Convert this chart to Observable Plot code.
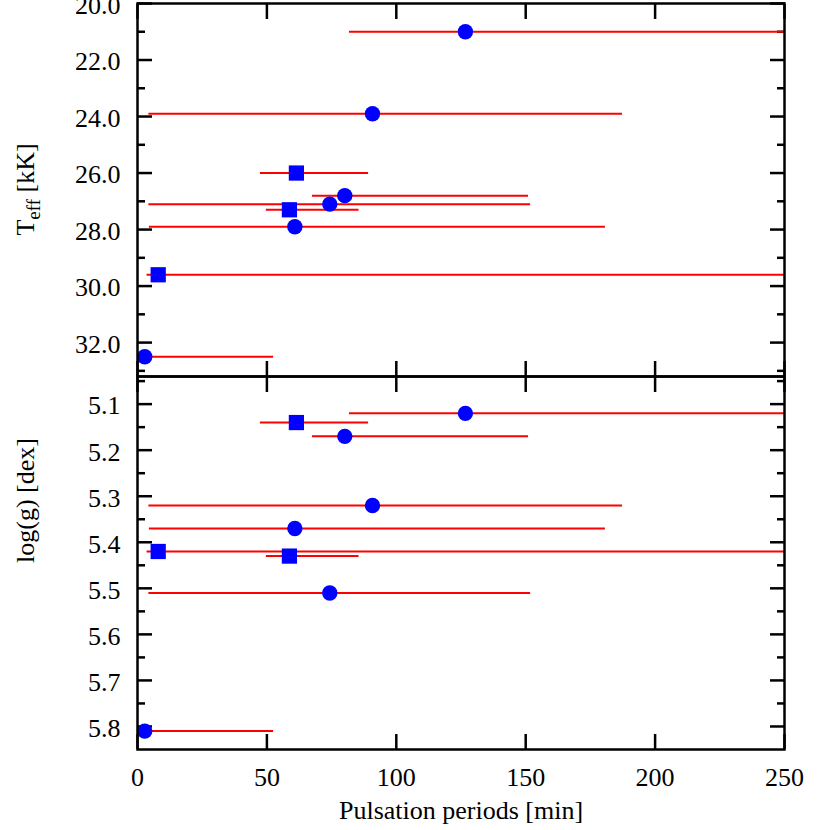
<!DOCTYPE html>
<html>
<head>
<meta charset="utf-8">
<script src="https://cdn.jsdelivr.net/npm/d3@7"></script>
<script src="https://cdn.jsdelivr.net/npm/@observablehq/plot@0.6"></script>
<style>
  body { margin: 0; background: #fff; }
  #wrap { position: relative; width: 830px; height: 830px; }
  #wrap svg { position: absolute; left: 0; top: 0; }
</style>
</head>
<body>
<div id="wrap"></div>
<script>
// Data
const period   = [126.7, 90.8, 61.4, 80.1, 74.3, 58.7, 60.8, 8.0, 2.8];
const periodLo = [81.9, 4.4, 47.5, 67.6, 4.4, 49.8, 4.6, 3.7, 0];
const periodHi = [260, 187.4, 89.3, 151.1, 151.9, 85.6, 180.8, 260, 52.6];
const teff     = [21.0, 23.9, 26.0, 26.8, 27.1, 27.3, 27.9, 29.6, 32.5];
const logg     = [5.12, 5.32, 5.14, 5.17, 5.51, 5.43, 5.37, 5.42, 5.81];
const symbol   = ["circle", "circle", "square", "circle", "circle", "square", "circle", "square", "circle"];

const xTicks    = [0, 50, 100, 150, 200, 250];
const teffMajor = [20, 22, 24, 26, 28, 30, 32];
const teffMinor = [21, 23, 25, 27, 29, 31, 33];
const loggMajor = [5.1, 5.2, 5.3, 5.4, 5.5, 5.6, 5.7, 5.8];
const loggMinor = [5.05, 5.15, 5.25, 5.35, 5.45, 5.55, 5.65, 5.75];

const xLabel = "Pulsation periods [min]";
const loggLabel = "log(g) [dex]";

const rows = period.map((p, i) => ({p, lo: periodLo[i], hi: periodHi[i], teff: teff[i], logg: logg[i], sym: symbol[i]}));

const FONT = "'Liberation Serif', 'Times New Roman', serif";
const blank = () => "";

function panel({yKey, domain, major, minor, fmt, marginTop, marginBottom, extra}) {
  return Plot.plot({
    width: 830, height: 830,
    marginLeft: 137, marginRight: 46, marginTop, marginBottom,
    style: {background: "transparent", fontFamily: FONT, fontSize: "26px", color: "black"},
    x: {domain: [0, 250]},
    y: {domain, reverse: true},
    marks: [
      Plot.axisY(major, {anchor: "left", tickSize: 15, dx: 15, strokeWidth: 2.5, tickFormat: blank, label: null}),
      Plot.axisY(minor, {anchor: "left", tickSize: 8, dx: 8, strokeWidth: 2.5, tickFormat: blank, label: null}),
      Plot.axisY(major, {anchor: "right", tickSize: 15, dx: -15, strokeWidth: 2.5, tickFormat: blank, label: null}),
      Plot.axisY(minor, {anchor: "right", tickSize: 8, dx: -8, strokeWidth: 2.5, tickFormat: blank, label: null}),
      Plot.axisY(major, {anchor: "left", tickSize: 0, tickPadding: 17, dy: 2, tickFormat: fmt, label: null}),
      Plot.axisX(xTicks, {anchor: "top", tickSize: 15, dy: 15, strokeWidth: 2.5, tickFormat: blank, label: null}),
      Plot.axisX(xTicks, {anchor: "bottom", tickSize: 15, dy: -15, strokeWidth: 2.5, tickFormat: blank, label: null}),
      Plot.ruleY(rows, {y: yKey, x1: "lo", x2: "hi", stroke: "red", strokeWidth: 2, clip: true}),
      Plot.dot(rows.filter(d => d.sym === "circle"), {x: "p", y: yKey, r: 7.7, fill: "blue", symbol: "circle"}),
      Plot.dot(rows.filter(d => d.sym === "square"), {x: "p", y: yKey, r: 8.6, fill: "blue", symbol: "square"}),
      Plot.frame({strokeWidth: 2.5}),
      ...extra
    ]
  });
}

const topPlot = panel({
  yKey: "teff", domain: [20, 33.2], major: teffMajor, minor: teffMinor,
  fmt: d3.format(".1f"), marginTop: 3, marginBottom: 454, extra: []
});

const bottomPlot = panel({
  yKey: "logg", domain: [5.04, 5.85], major: loggMajor, minor: loggMinor,
  fmt: d3.format(".1f"), marginTop: 376, marginBottom: 81,
  extra: [
    Plot.axisX(xTicks, {anchor: "bottom", tickSize: 0, tickPadding: 18, tickFormat: d => String(d), label: null}),
    Plot.text([xLabel], {text: d => d, frameAnchor: "bottom", dy: 69, lineAnchor: "bottom"}),
    Plot.text([loggLabel], {text: d => d, frameAnchor: "left", dx: -103.5, rotate: -90, lineAnchor: "bottom"})
  ]
});

const wrap = document.getElementById("wrap");
wrap.appendChild(topPlot);
wrap.appendChild(bottomPlot);

// T_eff label with subscript
const lab = d3.select(topPlot).append("text")
  .attr("transform", "translate(33.5,189.5) rotate(-90)")
  .attr("text-anchor", "middle")
  .attr("fill", "black")
  .style("font-family", FONT)
  .style("font-size", "26px")
  .style("white-space", "pre");
lab.append("tspan").text("T");
lab.append("tspan").attr("dy", 6).attr("font-size", 19).text("eff");
lab.append("tspan").attr("dy", -6).text(" [kK]");
</script>
</body>
</html>
